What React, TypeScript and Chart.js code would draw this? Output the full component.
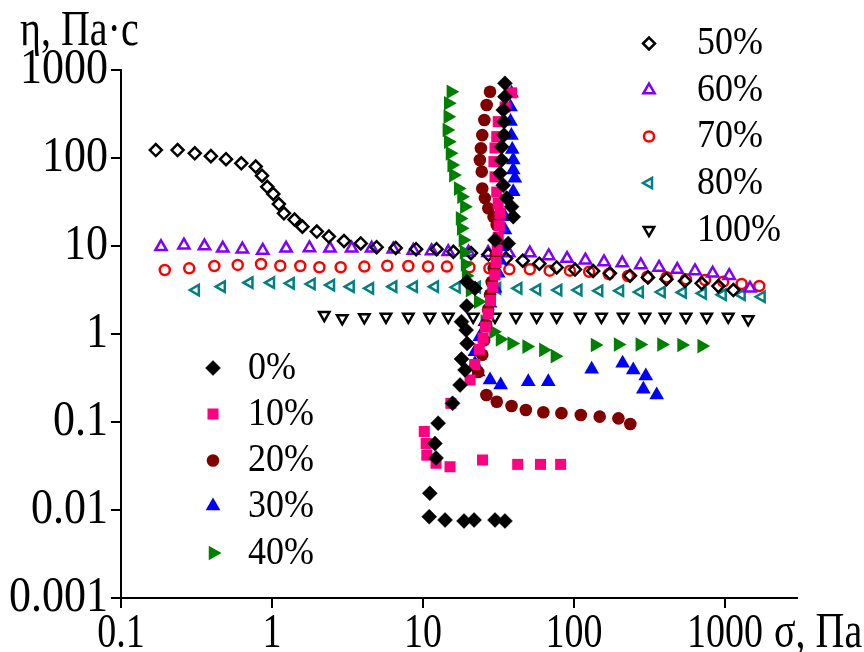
import React, { useEffect, useRef } from 'react';
import { Chart, registerables } from 'chart.js';
import { drawPoint } from 'chart.js/helpers';

Chart.register(...registerables);

// ---------- data ----------
const seriesLabels = ['0%', '10%', '20%', '30%', '40%', '50%', '60%', '70%', '80%', '100%'];

const x0 = [34.9, 34.9, 34.0, 34.4, 34.4, 33.2, 33.2, 32.4, 34.0, 35.8, 38.6, 39.6, 30.0, 36.7, 19.5, 22.1, 19.5, 18.0, 19.3, 19.6, 18.0, 19.0, 17.6, 15.7, 12.6, 12.0, 12.2, 11.1, 11.0, 14.0, 18.7, 21.8, 30.0, 34.9];
const y0 = [706, 498, 351, 258, 182, 134, 95, 67, 49, 35, 28, 21.5, 11.7, 10.7, 3.93, 3.3, 2.08, 1.38, 1.11, 0.78, 0.52, 0.39, 0.263, 0.163, 0.097, 0.057, 0.039, 0.0155, 0.0084, 0.0077, 0.0075, 0.0077, 0.0077, 0.0075];

const x10 = [38.6, 35.0, 31.5, 30.8, 30.0, 29.5, 30.0, 30.8, 31.5, 32.4, 32.0, 31.5, 31.0, 30.5, 30.0, 29.0, 28.0, 27.0, 26.0, 25.0, 23.6, 22.0, 20.5, 15.3, 10.2, 10.5, 10.6, 12.2, 15.1, 24.8, 42.4, 60, 81.6];
const y10 = [550, 380, 259, 175, 130, 91, 61, 41, 30.5, 23.5, 17, 12.5, 9, 6.5, 4.7, 3.4, 2.4, 1.7, 1.2, 0.9, 0.67, 0.45, 0.3, 0.163, 0.078, 0.057, 0.042, 0.034, 0.031, 0.037, 0.033, 0.033, 0.033];

const x20 = [27.8, 26.4, 25.5, 24.7, 24.2, 23.8, 24.5, 24.7, 25.7, 27.1, 29.3, 30.8, 30.9, 30.4, 29.4, 28.5, 27.8, 27.0, 26.2, 25.4, 24.7, 23.2, 26.3, 30.8, 38.6, 48, 62.7, 82.6, 111, 148, 197, 236];
const y20 = [566, 400, 270, 182, 129, 95, 70, 45, 35, 26.8, 21.5, 17.3, 11.7, 7.9, 5.6, 3.9, 2.8, 1.9, 1.26, 0.85, 0.58, 0.37, 0.203, 0.17, 0.152, 0.137, 0.129, 0.126, 0.12, 0.115, 0.11, 0.095];

const x30 = [38.6, 38.0, 38.0, 38.5, 39.0, 39.6, 39.6, 40.6, 39.6, 34.9, 34.9, 33.2, 32.4, 31.5, 30.0, 27.8, 25.7, 23.8, 22.1, 22.1, 23.2, 27.8, 32.7, 49.8, 67.6, 131, 210, 247, 299, 288, 353];
const y30 = [543, 380, 260, 180, 125, 95, 73, 58.7, 41.4, 21.5, 15.2, 9.8, 6.9, 4.9, 3.3, 2.23, 1.38, 0.93, 0.63, 0.46, 0.37, 0.3, 0.263, 0.287, 0.287, 0.397, 0.465, 0.39, 0.333, 0.235, 0.203];

const x40 = [15.3, 14.7, 14.6, 14.4, 14.7, 15.1, 15.5, 15.9, 17.1, 18.0, 18.8, 17.6, 17.9, 18.4, 18.7, 19.0, 19.3, 20.5, 23.2, 25.7, 29.3, 32.4, 38.7, 48.6, 62.7, 74.8, 138, 196, 273, 380, 516, 701];
const y40 = [566, 419, 295, 208, 153, 113, 83, 64, 45, 36.3, 28, 20.6, 15.9, 11.7, 8.5, 6.2, 4.6, 3.16, 2.33, 1.38, 1.06, 0.87, 0.78, 0.72, 0.66, 0.56, 0.75, 0.76, 0.76, 0.76, 0.75, 0.73];

const x50 = [0.170, 0.237, 0.308, 0.394, 0.496, 0.626, 0.78, 0.859, 0.93, 1.02, 1.11, 1.2, 1.41, 1.59, 1.98, 2.38, 3.0, 3.87, 4.93, 6.6, 9.0, 12.3, 15.9, 20.8, 27.1, 35.5, 45.8, 59, 76.8, 101.6, 134, 173, 235, 309, 410, 543, 701, 904, 1136];
const y50 = [123, 123, 113, 105, 97, 87, 80, 63, 47, 39, 30, 23.5, 20, 16.6, 14.6, 12.8, 11.4, 10.7, 9.7, 9.5, 9.2, 9.2, 8.6, 8.3, 8.0, 7.2, 6.8, 6.3, 5.7, 5.4, 5.2, 4.9, 4.6, 4.4, 4.2, 4.0, 3.77, 3.5, 3.16];

const x60 = [0.184, 0.261, 0.357, 0.472, 0.636, 0.868, 1.24, 1.77, 2.42, 3.37, 4.57, 6.36, 8.63, 11.4, 14.7, 20, 27, 37, 51, 68, 90, 119, 158, 209, 277, 366, 483, 633, 829, 1067, 1465];
const y60 = [9.8, 10.2, 10.0, 9.4, 9.2, 8.9, 9.4, 9.5, 9.4, 9.4, 9.4, 9.2, 8.9, 8.8, 8.6, 8.5, 8.4, 8.3, 8.3, 7.7, 7.2, 6.9, 6.6, 6.4, 6.1, 5.7, 5.4, 5.2, 4.9, 4.6, 3.3];

const x70 = [0.195, 0.283, 0.415, 0.593, 0.846, 1.135, 1.54, 2.06, 2.85, 4.09, 5.8, 8.0, 10.8, 14.4, 20.3, 27.5, 37.3, 51, 69, 94, 126, 170, 228, 306, 411, 552, 738, 974, 1289, 1687];
const y70 = [5.34, 5.58, 5.93, 6.1, 6.24, 5.97, 5.93, 5.73, 5.73, 5.83, 5.97, 5.93, 5.83, 5.83, 5.73, 5.58, 5.43, 5.43, 5.24, 5.24, 5.1, 4.8, 4.56, 4.48, 4.41, 4.18, 4.11, 3.93, 3.7, 3.51];

const x80 = [0.313, 0.465, 0.709, 0.985, 1.33, 1.83, 2.46, 3.32, 4.46, 6.36, 8.7, 12.0, 16.7, 22.7, 31, 42.8, 57, 78.7, 107, 147, 202, 273, 381, 525, 712, 966, 1290, 1750];
const y80 = [3.16, 3.45, 3.83, 3.83, 3.77, 3.7, 3.6, 3.45, 3.3, 3.45, 3.45, 3.45, 3.4, 3.4, 3.3, 3.3, 3.2, 3.16, 3.16, 3.1, 3.1, 3.0, 3.0, 2.97, 2.9, 2.8, 2.8, 2.65];

const x100 = [2.22, 2.92, 4.09, 5.69, 8.0, 11.1, 14.7, 21.5, 30, 41.3, 56.6, 76.8, 110, 152, 212, 295, 401, 552, 757, 1052, 1426];
const y100 = [1.64, 1.51, 1.55, 1.57, 1.57, 1.57, 1.57, 1.57, 1.57, 1.57, 1.57, 1.57, 1.57, 1.57, 1.57, 1.57, 1.57, 1.57, 1.57, 1.57, 1.47];

const xTickValues = [0.1, 1, 10, 100, 1000];
const xTickLabels = ['0.1', '1', '10', '100', '1000'];
const yTickValues = [0.001, 0.01, 0.1, 1, 10, 100, 1000];
const yTickLabels = ['0.001', '0.01', '0.1', '1', '10', '100', '1000'];

const xTitle = 'σ, Па';
const yTitle = 'η, Па·с';

// ---------- styles ----------
const seriesX = [x0, x10, x20, x30, x40, x50, x60, x70, x80, x100];
const seriesY = [y0, y10, y20, y30, y40, y50, y60, y70, y80, y100];

type Sty = { style: string; rot: number; r: number; fill: string; stroke: string; bw: number };
const styles: Sty[] = [
  { style: 'rectRot', rot: 0, r: 7.5, fill: '#000000', stroke: '#000000', bw: 0.5 },
  { style: 'rect', rot: 0, r: 7.8, fill: '#FF0080', stroke: '#FF0080', bw: 0 },
  { style: 'circle', rot: 0, r: 6.3, fill: '#800000', stroke: '#800000', bw: 0 },
  { style: 'triangle', rot: 0, r: 8.5, fill: '#0000FF', stroke: '#0000FF', bw: 0 },
  { style: 'triangle', rot: 90, r: 8.5, fill: '#008000', stroke: '#008000', bw: 0 },
  { style: 'rectRot', rot: 0, r: 6, fill: 'rgba(0,0,0,0)', stroke: '#000000', bw: 2.5 },
  { style: 'triangle', rot: 0, r: 6.5, fill: 'rgba(0,0,0,0)', stroke: '#8000FF', bw: 2.5 },
  { style: 'circle', rot: 0, r: 5, fill: 'rgba(0,0,0,0)', stroke: '#FF0000', bw: 2.5 },
  { style: 'triangle', rot: 270, r: 6, fill: 'rgba(0,0,0,0)', stroke: '#008080', bw: 2.5 },
  { style: 'triangle', rot: 180, r: 6, fill: 'rgba(0,0,0,0)', stroke: '#000000', bw: 2.5 },
];

const LEFT = 121;
const TOP = 70;
const RIGHT = 797;
const BOTTOM = 598;
const W = 864;
const H = 652;

const FONT = '"Liberation Serif", "Times New Roman", serif';

function stretchedText(ctx: CanvasRenderingContext2D, text: string, x: number, y: number, size: number, sy: number, align: CanvasTextAlign) {
  ctx.save();
  ctx.translate(x, y);
  ctx.scale(1, sy);
  ctx.font = `${size}px ${FONT}`;
  ctx.fillStyle = '#000';
  ctx.textAlign = align;
  ctx.textBaseline = 'middle';
  ctx.fillText(text, 0, 0);
  ctx.restore();
}

const textPlugin = {
  id: 'textPlugin',
  afterDraw(chart: any) {
    const ctx: CanvasRenderingContext2D = chart.ctx;
    const xs = chart.scales.x;
    const ys = chart.scales.y;
    yTickValues.forEach((v, i) => {
      stretchedText(ctx, yTickLabels[i], LEFT - 13, ys.getPixelForValue(v), 44, 1.15, 'right');
    });
    xTickValues.forEach((v, i) => {
      stretchedText(ctx, xTickLabels[i], xs.getPixelForValue(v), 634, 38, 1.3, 'center');
    });
    stretchedText(ctx, xTitle, 774, 634, 40, 1.25, 'left');
    stretchedText(ctx, yTitle, 20, 32, 40, 1.25, 'left');

    // legends
    const legendRowsLeft = [368, 414, 460.5, 506, 553];
    const legendRowsRight = [43.5, 90, 136.5, 183, 230];
    const drawEntry = (idx: number, mx: number, my: number, tx: number) => {
      const s = styles[idx];
      ctx.save();
      ctx.fillStyle = s.fill;
      ctx.strokeStyle = s.stroke;
      ctx.lineWidth = s.bw;
      drawPoint(ctx, { pointStyle: s.style as any, rotation: s.rot, radius: s.r, borderWidth: s.bw } as any, mx, my);
      ctx.restore();
      stretchedText(ctx, seriesLabels[idx], tx, my, 36, 1.13, 'left');
    };
    for (let i = 0; i < 5; i++) drawEntry(i, 213, legendRowsLeft[i], 248);
    for (let i = 0; i < 5; i++) drawEntry(i + 5, 649, legendRowsRight[i], 697);
  },
};

export default function App() {
  const ref = useRef<HTMLCanvasElement | null>(null);
  useEffect(() => {
    if (!ref.current) return;
    const datasets = seriesLabels.map((label, i) => ({
      label,
      data: seriesX[i].map((x, j) => ({ x, y: seriesY[i][j] })),
      pointStyle: styles[i].style as any,
      rotation: styles[i].rot,
      pointRadius: styles[i].r,
      backgroundColor: styles[i].fill,
      borderColor: styles[i].stroke,
      borderWidth: styles[i].bw,
      showLine: false,
      clip: false as any,
    }));
    const axisCommon = {
      type: 'logarithmic' as const,
      ticks: { display: false },
      grid: { display: true, drawOnChartArea: false, drawTicks: true, tickLength: 10, color: '#000', lineWidth: 2 },
      border: { display: true, color: '#000', width: 2 },
    };
    const chart = new Chart(ref.current, {
      type: 'scatter',
      data: { datasets },
      options: {
        responsive: false,
        animation: false,
        layout: { padding: { left: 0, top: TOP, right: W - RIGHT, bottom: 0 } },
        plugins: { legend: { display: false }, tooltip: { enabled: false } },
        scales: {
          x: {
            ...axisCommon,
            position: 'bottom',
            min: 0.1,
            max: 3000,
            afterBuildTicks: (s: any) => { s.ticks = xTickValues.map((v) => ({ value: v })); },
            afterFit: (s: any) => { s.height = H - BOTTOM; },
          },
          y: {
            ...axisCommon,
            position: 'left',
            min: 0.001,
            max: 1000,
            afterBuildTicks: (s: any) => { s.ticks = yTickValues.map((v) => ({ value: v })); },
            afterFit: (s: any) => { s.width = LEFT; },
          },
        } as any,
      },
      plugins: [textPlugin],
    });
    return () => chart.destroy();
  }, []);
  return (
    <div style={{ position: 'absolute', left: 0, top: 0, width: W, height: H, background: '#fff' }}>
      <canvas ref={ref} width={W} height={H} style={{ display: 'block' }} />
    </div>
  );
}
